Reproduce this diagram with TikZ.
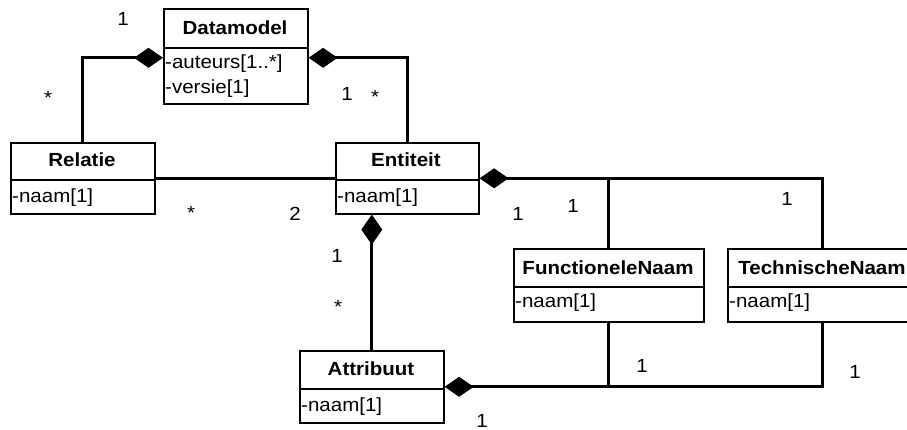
\documentclass[tikz,border=0pt]{standalone}
\usepackage{fontspec}
\setmainfont{Liberation Sans}[FakeStretch=1.08]
\usetikzlibrary{arrows.meta}
\begin{document}
\begin{tikzpicture}[
    x=1pt, y=-1pt,
    font=\fontsize{19}{22}\selectfont,
    box/.style={draw, line width=1.6pt, inner sep=0pt, anchor=north west},
    divider/.style={line width=1.6pt},
    title/.style={font=\fontsize{19}{22}\selectfont\bfseries, inner sep=0pt},
    attr/.style={anchor=base west, inner sep=0pt},
    conn/.style={line width=3pt, line join=miter},
    comp/.style={arrows={{Diamond[length=29pt,width=20pt]}-}},
    compv/.style={arrows={{Diamond[length=30pt,width=21pt]}-}},
    mult/.style={anchor=base, inner sep=0pt}
  ]
  \useasboundingbox (0,0) rectangle (907,430);

  % Class boxes
  \node[box, minimum width=144pt, minimum height=95pt] (dm)  at (163,8)   {};
  \node[box, minimum width=144pt, minimum height=71pt] (rel) at (10,142)  {};
  \node[box, minimum width=143pt, minimum height=71pt] (ent) at (335,142) {};
  \node[box, minimum width=190pt, minimum height=73pt] (fn)  at (513,248) {};
  \node[box, minimum width=190pt, minimum height=73pt] (tn)  at (727,248) {};
  \node[box, minimum width=144pt, minimum height=72pt] (att) at (299,350) {};

  % Compartment dividers
  \draw[divider] (dm.west  |- 0,48)  -- (dm.east  |- 0,48);
  \draw[divider] (rel.west |- 0,180) -- (rel.east |- 0,180);
  \draw[divider] (ent.west |- 0,180) -- (ent.east |- 0,180);
  \draw[divider] (fn.west  |- 0,287) -- (fn.east  |- 0,287);
  \draw[divider] (tn.west  |- 0,287) -- (tn.east  |- 0,287);
  \draw[divider] (att.west |- 0,389) -- (att.east |- 0,389);

  % Class names
  \node[title] (dmt)  at (235,28)  {Datamodel};
  \node[title] (relt) at (82,160)  {Relatie};
  \node[title] (entt) at (406,160) {Entiteit};
  \node[title] (fnt)  at (608,268) {FunctioneleNaam};
  \node[title] (tnt)  at (822,268) {TechnischeNaam};
  \node[title] (attt) at (371,369) {Attribuut};

  % Attributes
  \node[attr] (dma1) at (165,69)  {-auteurs[1..*]};
  \node[attr] (dma2) at (165,94)  {-versie[1]};
  \node[attr] (rela) at (12,203)  {-naam[1]};
  \node[attr] (enta) at (337,203) {-naam[1]};
  \node[attr] (fna)  at (515,307) {-naam[1]};
  \node[attr] (tna)  at (729,307) {-naam[1]};
  \node[attr] (atta) at (301,411) {-naam[1]};

  % Associations
  \draw[conn, comp] ([yshift=-1.5pt]dm.west) -| (rel.north);
  \draw[conn, comp] ([yshift=-1.5pt]dm.east) -| (ent.north);
  \draw[conn] (rel.east) -- (ent.west);
  \draw[conn, comp] (ent.east) -| (tn.north);
  \draw[conn] (fn.north) -- (fn.north |- ent.east);
  \draw[conn, compv] (att.north |- ent.south) -- (att.north);
  \draw[conn, comp] (att.east) -| (tn.south);
  \draw[conn] (fn.south) -- (fn.south |- att.east);

  % Multiplicities
  \node[mult] (m1)  at (123,26)  {1};
  \node[mult] (m2)  at (48,105)  {*};
  \node[mult] (m3)  at (347,101) {1};
  \node[mult] (m4)  at (375,104) {*};
  \node[mult] (m5)  at (191,220) {*};
  \node[mult] (m6)  at (295,221) {2};
  \node[mult] (m7)  at (518,221) {1};
  \node[mult] (m8)  at (573,213) {1};
  \node[mult] (m9)  at (787,206) {1};
  \node[mult] (m10) at (337,262) {1};
  \node[mult] (m11) at (338,313) {*};
  \node[mult] (m12) at (642,372) {1};
  \node[mult] (m13) at (855,378) {1};
  \node[mult] (m14) at (482,427) {1};
\end{tikzpicture}
\end{document}
